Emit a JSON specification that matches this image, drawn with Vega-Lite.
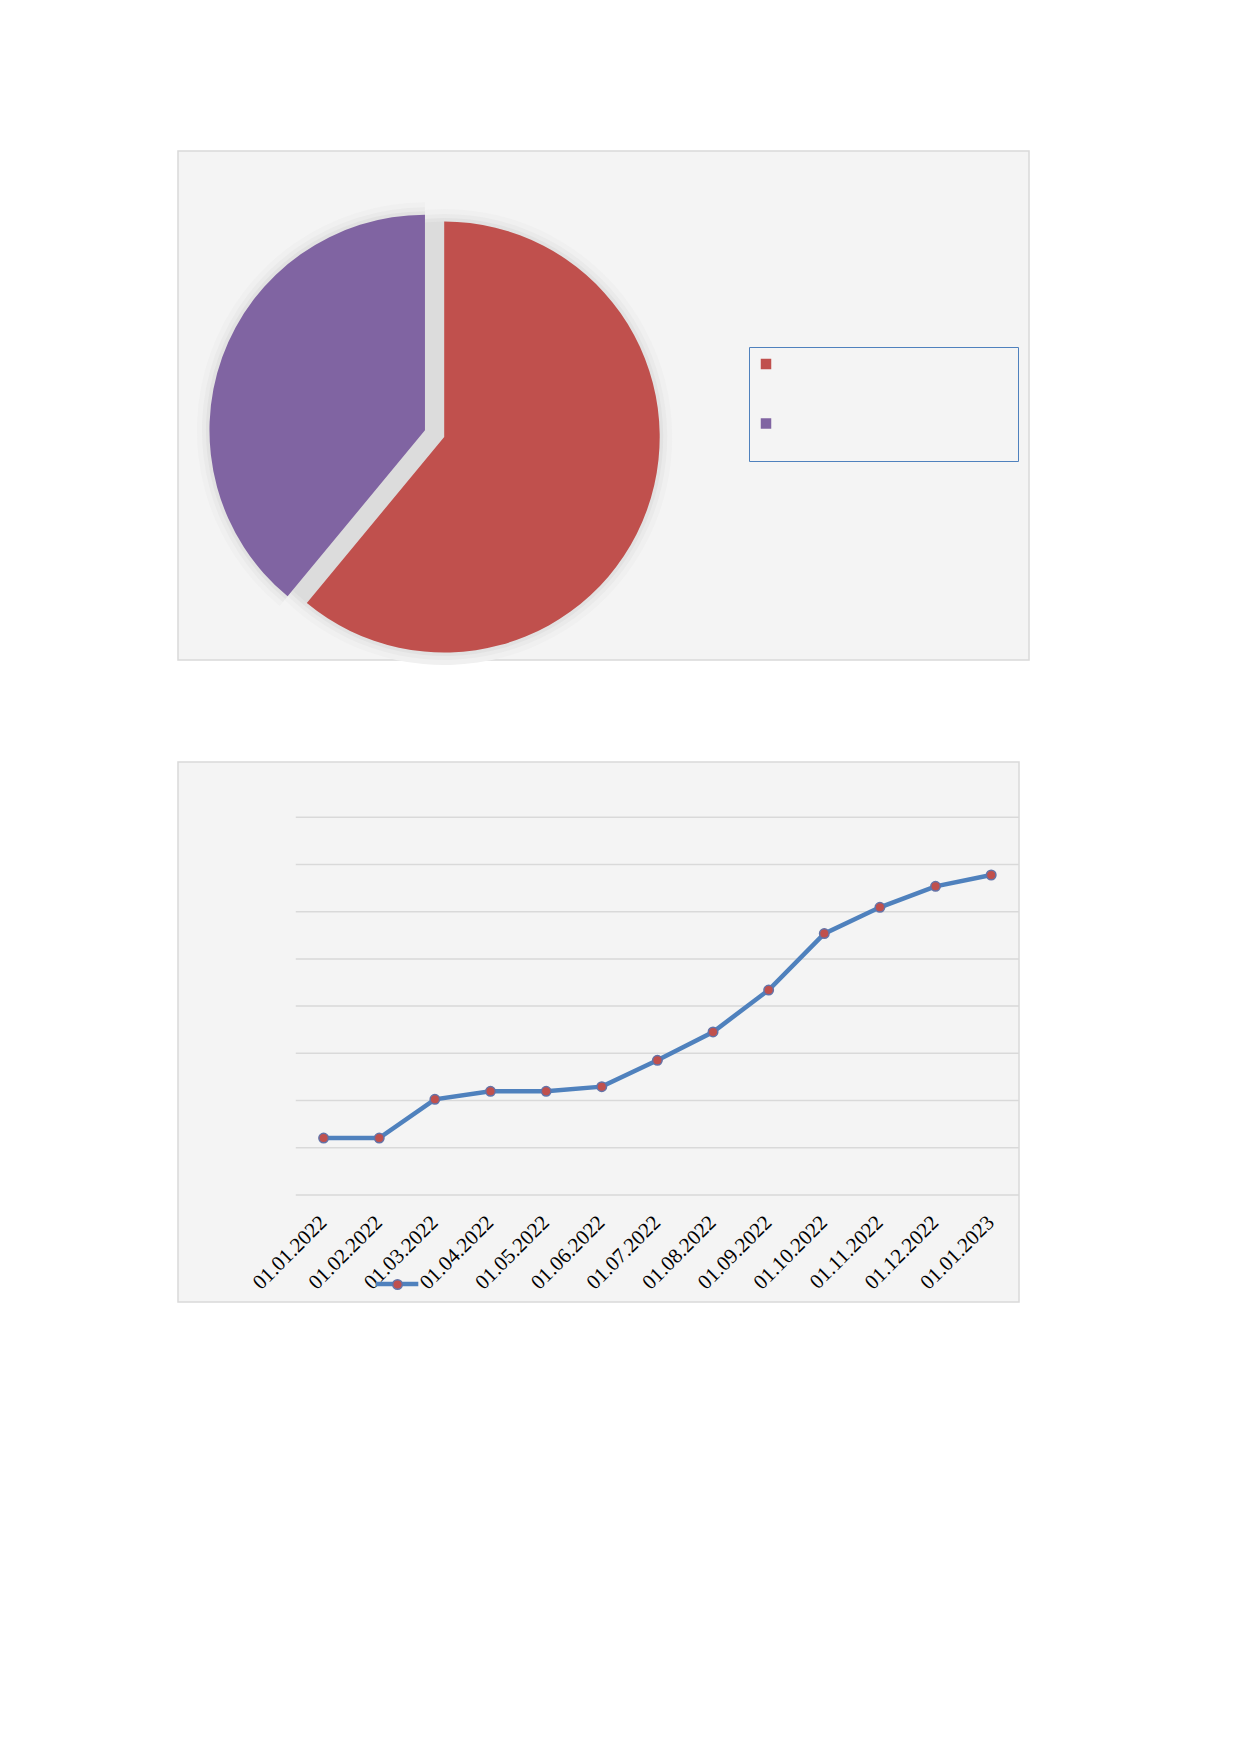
{
  "$schema": "https://vega.github.io/schema/vega-lite/v6.json",
  "background": "#ffffff",
  "padding": {"left": 177, "top": 150, "right": 0, "bottom": 0},
  "bounds": "flush",
  "spacing": 102,
  "config": {
    "view": {"fill": "#f4f4f4", "stroke": "#d9d9d9", "strokeWidth": 1.5},
    "axis": {"labelFont": "Liberation Serif", "labelFontSize": 21, "labelColor": "#000000"}
  },
  "vconcat": [
    {
      "width": 851,
      "height": 509,
      "data": {"values": [{"cat": "A", "value": 61}, {"cat": "B", "value": 39}]},
      "transform": [
        {"stack": "value", "groupby": [], "sort": [{"field": "cat", "order": "ascending"}], "as": ["start", "end"]}
      ],
      "encoding": {
        "theta": {"field": "start", "type": "quantitative", "scale": {"domain": [0, 100]}},
        "theta2": {"field": "end"},
        "x": {"datum": 0.3128, "type": "quantitative", "scale": {"domain": [0, 1], "nice": false, "zero": false}, "axis": null},
        "y": {"datum": 0.4381, "type": "quantitative", "scale": {"domain": [0, 1], "nice": false, "zero": false}, "axis": null}
      },
      "layer": [
        {"mark": {"type": "arc", "radius": 228, "color": "#f0f0f0"}},
        {
          "transform": [{"filter": "datum.cat == 'B'"}],
          "mark": {"type": "arc", "radius": 228, "color": "#f0f0f0"},
          "encoding": {
            "x": {"datum": 0.2902, "type": "quantitative", "axis": null},
            "y": {"datum": 0.4513, "type": "quantitative", "axis": null}
          }
        },
        {"mark": {"type": "arc", "radius": 223, "color": "#eaeaea"}},
        {
          "transform": [{"filter": "datum.cat == 'B'"}],
          "mark": {"type": "arc", "radius": 223, "color": "#eaeaea"},
          "encoding": {
            "x": {"datum": 0.2902, "type": "quantitative", "axis": null},
            "y": {"datum": 0.4513, "type": "quantitative", "axis": null}
          }
        },
        {"mark": {"type": "arc", "radius": 219, "color": "#e2e2e2"}},
        {
          "transform": [{"filter": "datum.cat == 'B'"}],
          "mark": {"type": "arc", "radius": 219, "color": "#e2e2e2"},
          "encoding": {
            "x": {"datum": 0.2902, "type": "quantitative", "axis": null},
            "y": {"datum": 0.4513, "type": "quantitative", "axis": null}
          }
        },
        {"mark": {"type": "arc", "radius": 215.5, "color": "#dcdcdc"}},
        {
          "transform": [{"filter": "datum.cat == 'A'"}],
          "mark": {"type": "arc", "radius": 215.5},
          "encoding": {
            "color": {
              "field": "cat",
              "type": "nominal",
              "scale": {"domain": ["A", "B"], "range": ["#c0504d", "#8064a2"]},
              "legend": {
                "orient": "none",
                "legendX": 571,
                "legendY": 196,
                "title": " ",
                "titleOrient": "bottom",
                "titleFontSize": 17,
                "titlePadding": 5,
                "labelExpr": "''",
                "labelFontSize": 11,
                "symbolType": "square",
                "symbolSize": 110,
                "symbolStrokeWidth": 0,
                "padding": 11.5,
                "rowPadding": 47.5,
                "labelOffset": 234.7,
                "strokeColor": "#4f81bd"
              }
            }
          }
        },
        {
          "transform": [{"filter": "datum.cat == 'B'"}],
          "mark": {"type": "arc", "radius": 215.5},
          "encoding": {
            "color": {"field": "cat", "type": "nominal"},
            "x": {"datum": 0.2902, "type": "quantitative", "axis": null},
            "y": {"datum": 0.4513, "type": "quantitative", "axis": null}
          }
        }
      ]
    },
    {
      "width": 841,
      "height": 540,
      "layer": [
        {
          "data": {"values": [{"g": 0}, {"g": 1}, {"g": 2}, {"g": 3}, {"g": 4}, {"g": 5}, {"g": 6}, {"g": 7}, {"g": 8}]},
          "mark": {"type": "rule", "color": "#d9d9d9", "strokeWidth": 1.5},
          "encoding": {
            "x": {
              "datum": "01.01.2022",
              "type": "ordinal",
              "bandPosition": 0,
              "scale": {
                "type": "band",
                "domain": ["01.01.2022", "01.02.2022", "01.03.2022", "01.04.2022", "01.05.2022", "01.06.2022", "01.07.2022", "01.08.2022", "01.09.2022", "01.10.2022", "01.11.2022", "01.12.2022", "01.01.2023"],
                "range": [117.8, 841],
                "paddingInner": 0,
                "paddingOuter": 0
              },
              "axis": {
                "title": null,
                "labelFont": "Liberation Serif",
                "labelFontSize": 21,
                "labelAngle": -45,
                "labelAlign": "right",
                "labelBaseline": "middle",
                "ticks": false,
                "tickSize": 0,
                "domain": false,
                "grid": false,
                "labelPadding": 0,
                "offset": -83,
                "labelOverlap": false,
                "labelBound": false
              }
            },
            "x2": {"datum": "01.01.2023", "bandPosition": 1},
            "y": {"field": "g", "type": "quantitative", "scale": {"domain": [-2.269, 9.172], "nice": false, "zero": false}, "axis": null}
          }
        },
        {
          "data": {
            "values": [
              {"date": "01.01.2022", "v": 1.205, "series": "Series 1"},
              {"date": "01.02.2022", "v": 1.205, "series": "Series 1"},
              {"date": "01.03.2022", "v": 2.025, "series": "Series 1"},
              {"date": "01.04.2022", "v": 2.195, "series": "Series 1"},
              {"date": "01.05.2022", "v": 2.195, "series": "Series 1"},
              {"date": "01.06.2022", "v": 2.294, "series": "Series 1"},
              {"date": "01.07.2022", "v": 2.852, "series": "Series 1"},
              {"date": "01.08.2022", "v": 3.452, "series": "Series 1"},
              {"date": "01.09.2022", "v": 4.341, "series": "Series 1"},
              {"date": "01.10.2022", "v": 5.536, "series": "Series 1"},
              {"date": "01.11.2022", "v": 6.093, "series": "Series 1"},
              {"date": "01.12.2022", "v": 6.538, "series": "Series 1"},
              {"date": "01.01.2023", "v": 6.778, "series": "Series 1"}
            ]
          },
          "encoding": {
            "x": {
              "field": "date",
              "type": "ordinal",
              "sort": null,
              "axis": {
                "title": null,
                "labelFont": "Liberation Serif",
                "labelFontSize": 21,
                "labelAngle": -45,
                "labelAlign": "right",
                "labelBaseline": "middle",
                "ticks": false,
                "tickSize": 0,
                "domain": false,
                "grid": false,
                "labelPadding": 0,
                "offset": -83,
                "labelOverlap": false,
                "labelBound": false
              }
            },
            "y": {"field": "v", "type": "quantitative", "axis": null}
          },
          "layer": [
            {
              "mark": {"type": "line", "strokeWidth": 4.5},
              "encoding": {
                "stroke": {
                  "field": "series",
                  "type": "nominal",
                  "scale": {"range": ["#4f81bd"]},
                  "legend": {
                    "orient": "none",
                    "legendX": 195,
                    "legendY": 1109,
                    "title": null,
                    "labelExpr": "''",
                    "symbolType": "stroke",
                    "symbolSize": 1815,
                    "symbolStrokeWidth": 4.5,
                    "padding": 0
                  }
                }
              }
            },
            {
              "mark": {"type": "circle", "size": 90, "opacity": 1, "stroke": "#6373a8", "strokeWidth": 1.5},
              "encoding": {
                "fill": {
                  "field": "series",
                  "type": "nominal",
                  "scale": {"range": ["#c0504d"]},
                  "legend": {
                    "orient": "none",
                    "legendX": 214,
                    "legendY": 1128,
                    "title": null,
                    "labelExpr": "''",
                    "symbolType": "circle",
                    "symbolSize": 90,
                    "symbolOpacity": 1,
                    "symbolStrokeColor": "#6373a8",
                    "symbolStrokeWidth": 1.5,
                    "padding": 0
                  }
                }
              }
            }
          ]
        }
      ]
    }
  ]
}
